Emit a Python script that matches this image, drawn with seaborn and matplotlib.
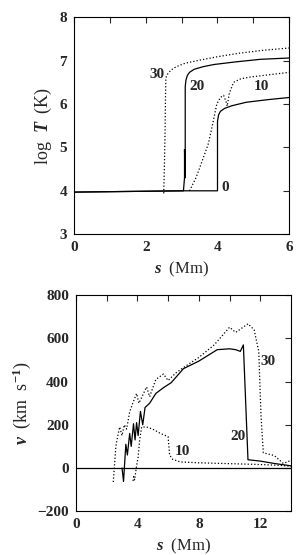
import numpy as np
import pandas as pd
import seaborn as sns
import matplotlib
matplotlib.use("Agg")
import matplotlib.pyplot as plt

# ---- top panel: log T vs s (Mm) ----
t0_s = [0.0, 1.0, 2.0, 3.0, 4.0, 4.0, 4.03, 4.08, 4.2, 4.4, 4.8, 5.4, 6.0]
t0_T = [3.97, 3.98, 3.99, 4.0, 4.0, 5.6, 5.75, 5.83, 5.9, 5.96, 6.04, 6.1, 6.15]

t10_s = [3.22, 3.4, 3.6, 3.75, 3.88, 3.98, 4.08, 4.17, 4.24, 4.27, 4.33, 4.45, 4.65, 4.9, 5.4, 6.0]
t10_T = [4.0, 4.3, 4.75, 5.1, 5.6, 6.0, 6.15, 6.2, 6.05, 5.95, 6.25, 6.5, 6.58, 6.62, 6.67, 6.73]

t20_s = [0.0, 1.0, 2.0, 3.05, 3.08, 3.08, 3.1, 3.1, 3.12, 3.16, 3.22, 3.35, 3.6, 3.9, 4.5, 5.2, 6.0]
t20_T = [3.97, 3.98, 3.99, 4.0, 4.3, 4.95, 4.3, 6.4, 6.55, 6.66, 6.73, 6.8, 6.86, 6.91, 6.97, 7.03, 7.06]

t30_s = [2.5, 2.52, 2.54, 2.55, 2.56, 2.6, 2.7, 2.85, 3.1, 3.5, 4.0, 4.6, 5.3, 6.0]
t30_T = [3.94, 4.6, 5.5, 6.2, 6.6, 6.68, 6.78, 6.86, 6.94, 7.01, 7.09, 7.17, 7.24, 7.29]

# ---- bottom panel: v vs s (Mm) ----
v0_s = [0.0, 14.0]
v0_v = [0.0, 0.0]

v10_s = [3.72, 3.76, 3.82, 3.95, 4.05, 4.15, 4.28, 4.6, 5.0, 5.5, 6.0, 6.1, 6.3, 6.8, 8.0, 10.0, 12.0, 13.3, 14.0]
v10_v = [-60, -40, -55, 10, 50, 130, 190, 190, 180, 160, 145, 60, 40, 28, 24, 20, 16, 12, 8]

v20_s = [3.0, 3.05, 3.1, 3.25, 3.35, 3.5, 3.6, 3.75, 3.85, 3.95, 4.05, 4.2, 4.35, 4.5, 4.8, 5.2, 5.7, 6.2, 7.0, 8.0,
         9.2, 10.0, 10.4, 10.7, 10.9, 11.2, 12.0, 12.9, 14.0]
v20_v = [0, -30, -62, 110, 60, 160, 100, 205, 130, 210, 150, 262, 200, 280, 300, 345, 372, 395, 460, 495,
         548, 552, 548, 540, 570, 38, 32, 21, 10]

v30_s = [2.43, 2.5, 2.6, 2.7, 2.85, 3.0, 3.15, 3.3, 3.5, 3.7, 3.95, 4.1, 4.3, 4.6, 4.8, 5.2, 5.7, 6.0, 6.5, 7.0,
         8.0, 9.0, 10.0, 10.4, 11.2, 11.6, 11.9, 12.05, 12.2, 12.9, 13.5, 14.0]
v30_v = [-65, 0, 100, 140, 190, 150, 200, 180, 260, 300, 345, 300, 330, 375, 330, 410, 435, 405, 440, 465,
         512, 570, 652, 628, 668, 640, 540, 240, 70, 58, 21, 35]

labels_top = [("30", 2.3, 6.69), ("20", 3.42, 6.41), ("10", 5.22, 6.41), ("0", 4.21, 4.08)]
labels_bot = [("30", 12.52, 491), ("20", 10.52, 144), ("10", 6.92, 75)]

sns.set_style("white")
plt.rcParams["font.family"] = ["Liberation Serif", "DejaVu Serif"]
plt.rcParams["font.weight"] = "bold"
plt.rcParams["mathtext.fontset"] = "custom"
plt.rcParams["mathtext.rm"] = "Liberation Serif:bold"
plt.rcParams["mathtext.it"] = "Liberation Serif:italic:bold"
plt.rcParams["mathtext.bf"] = "Liberation Serif:bold"

fig = plt.figure(figsize=(3.0, 5.55), dpi=100)
ax1 = fig.add_axes([0.247, 0.578, 0.717, 0.391])
ax2 = fig.add_axes([0.253, 0.079, 0.717, 0.389])

def curve(ax, s, y, ls):
    df = pd.DataFrame({"s": s, "y": y})
    sns.lineplot(data=df, x="s", y="y", sort=False, estimator=None, color="black",
                 linestyle=ls, linewidth=0.9, ax=ax)

curve(ax1, t0_s, t0_T, "-")
curve(ax1, t10_s, t10_T, ":")
curve(ax1, t20_s, t20_T, "-")
curve(ax1, t30_s, t30_T, ":")

curve(ax2, v0_s, v0_v, "-")
curve(ax2, v10_s, v10_v, ":")
curve(ax2, v20_s, v20_v, "-")
curve(ax2, v30_s, v30_v, ":")

for txt, x, y in labels_top:
    ax1.text(x, y, txt, ha="center", va="center", fontsize=11, fontweight="bold")
for txt, x, y in labels_bot:
    ax2.text(x, y, txt, ha="center", va="center", fontsize=11, fontweight="bold")

ax1.set_xlim(0, 6)
ax1.set_ylim(3, 8)
ax1.set_xticks([0, 2, 4, 6])
ax1.set_xticks([1, 3, 5], minor=True)
ax1.set_yticks([3, 4, 5, 6, 7, 8])
ax1.set_xlabel(r"$s$  (Mm)", fontsize=12)
ax1.set_ylabel(r"log  $T$  (K)", fontsize=13)

ax2.set_xlim(0, 14)
ax2.set_ylim(-200, 800)
ax2.set_xticks([0, 4, 8, 12])
ax2.set_xticks([2, 6, 10], minor=True)
ax2.set_yticks([-200, 0, 200, 400, 600, 800])
ax2.set_xlabel(r"$s$  (Mm)", fontsize=12)
ax2.set_ylabel(r"$v$  (km  s$^{-1}$)", fontsize=13, labelpad=3)

for ax in (ax1, ax2):
    ax.tick_params(which="both", direction="in", top=True, right=True, length=4, width=0.8,
                   labelsize=11, pad=5)
    for sp in ax.spines.values():
        sp.set_linewidth(0.8)
        sp.set_color("black")

fig.savefig("out.png", dpi=100)
